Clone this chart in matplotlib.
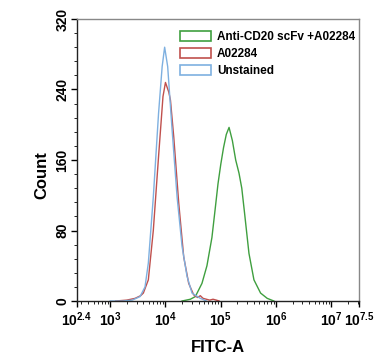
import matplotlib
matplotlib.use("Agg")
import matplotlib.pyplot as plt
from matplotlib.patches import Patch
from matplotlib.ticker import FixedLocator, FixedFormatter, MultipleLocator, LogLocator, NullFormatter
import numpy as np

plt.rcParams['font.family'] = ['Liberation Sans', 'DejaVu Sans']
plt.rcParams['mathtext.fontset'] = 'custom'
plt.rcParams['mathtext.rm'] = 'Liberation Sans:bold'
plt.rcParams['mathtext.it'] = 'Liberation Sans:bold'
plt.rcParams['mathtext.bf'] = 'Liberation Sans:bold'

# Data (x as log10 of FITC-A intensity, y as event count)
series_labels = ["Anti-CD20 scFv +A02284", "A02284", "Unstained"]
series_colors = ["#3f9f3f", "#c0504d", "#7eb0e0"]

green_log = [4.30, 4.45, 4.54, 4.66, 4.75, 4.84, 4.90, 4.95, 5.00, 5.05, 5.10, 5.15, 5.21, 5.27, 5.33, 5.38, 5.43, 5.51, 5.60, 5.72, 5.84, 5.96]
green_cnt = [0, 2, 5, 20, 40, 72, 105, 133, 155, 174, 189, 197, 182, 160, 145, 128, 100, 54, 24, 9, 3, 0]

red_log = [3.10, 3.30, 3.45, 3.55, 3.60, 3.69, 3.78, 3.875, 3.955, 4.00, 4.06, 4.09, 4.15, 4.24, 4.33, 4.42, 4.51, 4.58, 4.63, 4.68, 4.74, 4.80, 4.86, 4.92, 4.97]
red_cnt = [0, 1, 3, 6, 9, 24, 80, 164, 232, 248, 237, 228, 186, 111, 50, 20, 7, 4, 6, 3, 2, 1, 2, 1, 0]

blue_log = [3.00, 3.23, 3.40, 3.54, 3.63, 3.69, 3.78, 3.875, 3.94, 3.985, 4.04, 4.12, 4.21, 4.30, 4.39, 4.48, 4.63, 4.74]
blue_cnt = [0, 0, 1, 5, 16, 43, 118, 213, 266, 288, 266, 194, 118, 62, 28, 9, 3, 0]

xtick_exps = [2.4, 3, 4, 5, 6, 7, 7.5]
xtick_labels = [r"$\mathbf{10^{2.4}}$", r"$\mathbf{10^{3}}$", r"$\mathbf{10^{4}}$", r"$\mathbf{10^{5}}$",
                r"$\mathbf{10^{6}}$", r"$\mathbf{10^{7}}$", r"$\mathbf{10^{7.5}}$"]
yticks = [0, 80, 160, 240, 320]

fig = plt.figure(figsize=(3.9, 3.58), dpi=100)
ax = fig.add_axes([77/390, 1-301/358, 282/390, 282/358])

series = [(green_log, green_cnt), (red_log, red_cnt), (blue_log, blue_cnt)]
for (lx, cy), col in zip(series, series_colors):
    ax.plot(10**np.array(lx), cy, color=col, lw=1.0)

ax.set_xscale('log')
ax.set_xlim(10**2.4, 10**7.5)
ax.set_ylim(0, 320)
ax.xaxis.set_major_locator(FixedLocator([10**e for e in xtick_exps]))
ax.xaxis.set_major_formatter(FixedFormatter(xtick_labels))
ax.xaxis.set_minor_locator(LogLocator(base=10, subs=np.arange(2, 10)))
ax.xaxis.set_minor_formatter(NullFormatter())
ax.set_yticks(yticks)
ax.yaxis.set_minor_locator(MultipleLocator(16))
ax.tick_params(axis='both', which='major', direction='out', length=4, width=1)
ax.tick_params(axis='x', which='major', labelsize=10, pad=3)
ax.tick_params(axis='y', which='major', labelsize=10, pad=1.5)
ax.tick_params(axis='both', which='minor', direction='out', length=2, width=0.6)
for lab in ax.get_yticklabels():
    lab.set_rotation(90)
    lab.set_va('center')
    lab.set_fontweight('bold')
for s in ax.spines.values():
    s.set_linewidth(1.0)
    s.set_color('#222222')
ax.spines['top'].set_color('#888888')
ax.spines['right'].set_color('#888888')

fig.text(42/390, 1-175/358, "Count", rotation=90, fontsize=12, fontweight='bold', ha='center', va='center')
fig.text(218/390, 1-348/358, "FITC-A", fontsize=12, fontweight='bold', ha='center', va='center')

handles = [Patch(facecolor='none', edgecolor=c, linewidth=1.2) for c in series_colors]
ax.legend(handles, series_labels, loc='upper left', bbox_to_anchor=(0.35, 0.975), frameon=False,
          prop={'weight': 'bold', 'size': 8.5}, handlelength=2.6, handleheight=0.9,
          labelspacing=0.45, handletextpad=0.5, borderaxespad=0)

fig.savefig("out.png", dpi=100)
